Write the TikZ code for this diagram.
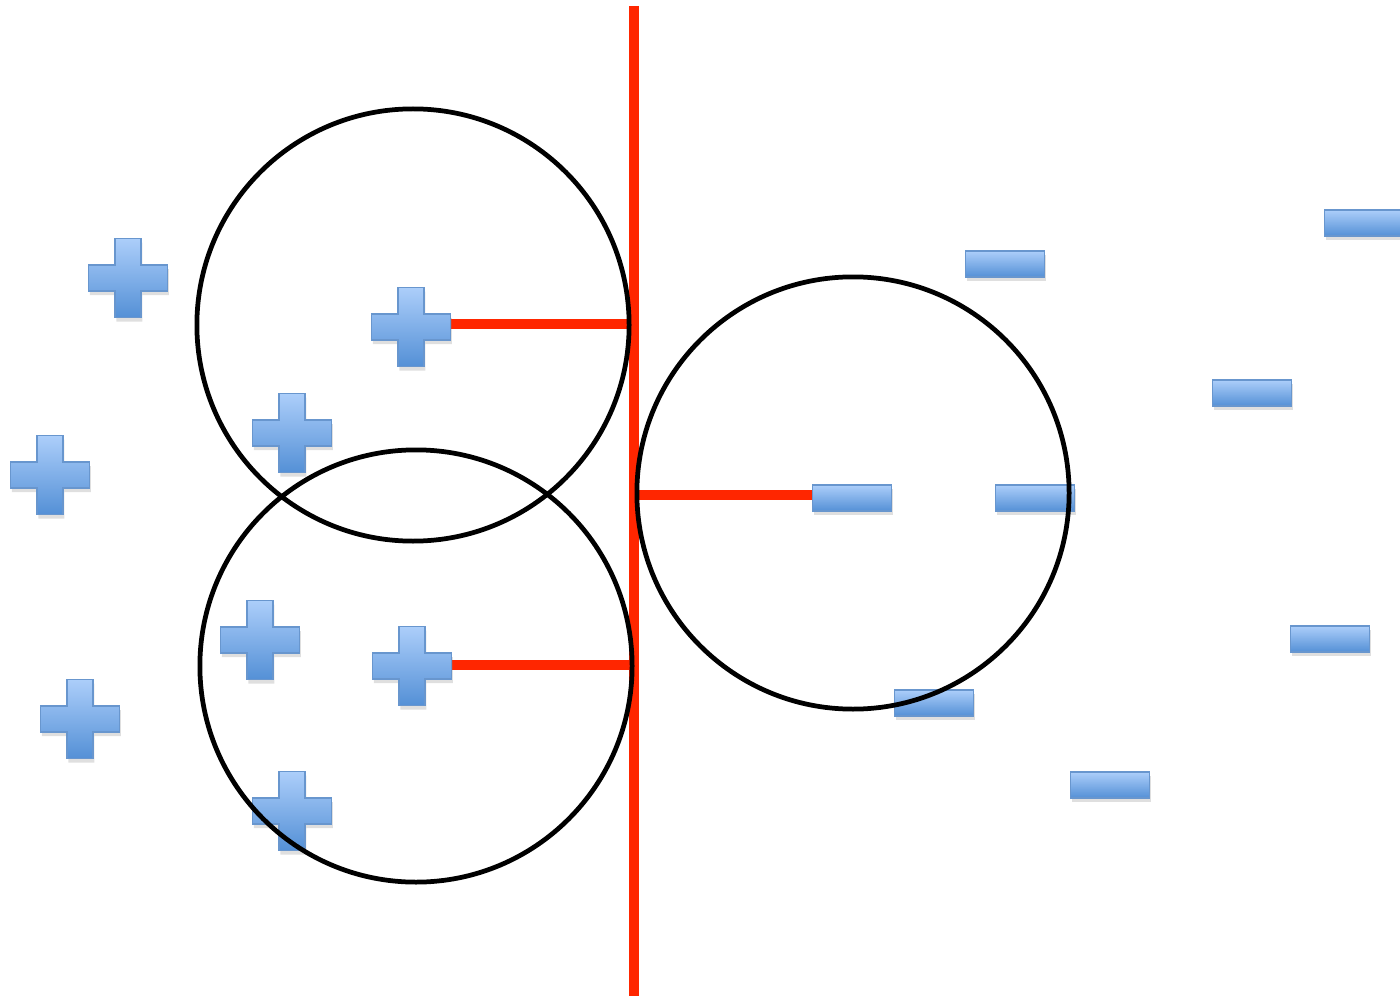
\documentclass[tikz,border=0pt]{standalone}
\usetikzlibrary{shadows}
\definecolor{redl}{RGB}{255,38,0}
\definecolor{bluetop}{RGB}{172,206,250}
\definecolor{bluebot}{RGB}{84,144,214}
\definecolor{blueedge}{RGB}{104,150,206}
\tikzset{
  redline/.style={draw=redl, line width=2.6pt},
  ring/.style={draw=black, line width=1.35pt},
  symfill/.style={top color=bluetop, bottom color=bluebot, draw=blueedge, line width=0.45pt,
    drop shadow={opacity=0.25, shadow xshift=0.4pt, shadow yshift=-1.2pt}},
  minusbox/.style={symfill, rectangle, minimum width=0.79cm, minimum height=0.26cm, inner sep=0pt},
  pics/plussign/.style={code={
    \path[symfill] (-13,-39.5) -- (13,-39.5) -- (13,-13) -- (39.5,-13) -- (39.5,13) -- (13,13)
      -- (13,39.5) -- (-13,39.5) -- (-13,13) -- (-39.5,13) -- (-39.5,-13) -- (-13,-13) -- cycle;
  }}
}
\begin{document}
\begin{tikzpicture}[x=0.01cm, y=-0.01cm]
\useasboundingbox (0,0) rectangle (1400,997);
% coordinates
\coordinate (sepTop) at (634,6);
\coordinate (sepBot) at (634,996);
\coordinate (h1) at (630,324);
\coordinate (h2) at (630,665);
\coordinate (h3) at (638,495);
\coordinate (p1) at (128,278);
\coordinate (p2) at (411,327);
\coordinate (p3) at (292,433);
\coordinate (p4) at (50,475);
\coordinate (p5) at (260,640);
\coordinate (p6) at (412,666);
\coordinate (p7) at (80,719);
\coordinate (p8) at (292,811);
% red lines
\draw[redline] (sepTop) -- (sepBot);
\draw[redline] (h1 -| p2) -- (h1);
\draw[redline] (h2 -| p6) -- (h2);
\draw[redline] (h3) -- (852,495) coordinate (m4c);
% plus signs
\foreach \p in {p1,p2,p3,p4,p5,p6,p7,p8} \pic at (\p) {plussign};
% minus signs
\node[minusbox] (m1) at (1364,223) {};
\node[minusbox] (m2) at (1005,264) {};
\node[minusbox] (m3) at (1252,393) {};
\node[minusbox] (m4) at (852,498) {};
\node[minusbox] (m5) at (1035,498) {};
\node[minusbox] (m6) at (1330,639) {};
\node[minusbox] (m7) at (934,703) {};
\node[minusbox] (m8) at (1110,785) {};
% circles
\draw[ring] (413,325) circle [radius=2.16cm];
\draw[ring] (416,666) circle [radius=2.16cm];
\draw[ring] (853,493) circle [radius=2.16cm];
\end{tikzpicture}
\end{document}
